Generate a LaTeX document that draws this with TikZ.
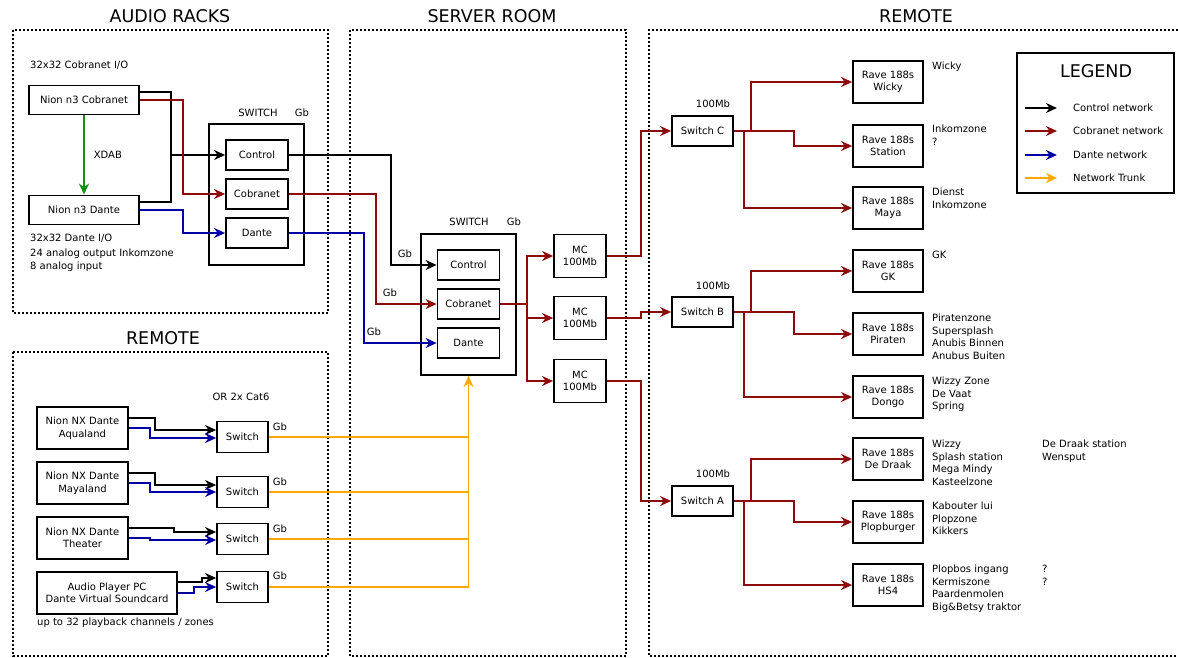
\documentclass[tikz,border=0pt]{standalone}
\usepackage{fontspec}
\setmainfont{DejaVu Sans}
\usepackage{tikz}
\usetikzlibrary{arrows.meta}

\definecolor{cobred}{RGB}{140,10,10}
\definecolor{danblue}{RGB}{0,0,165}
\definecolor{trunkorange}{RGB}{255,168,0}
\definecolor{xdabgreen}{RGB}{20,145,20}

\begin{document}
\begin{tikzpicture}[line join=miter,x=1pt,y=-1pt,>={Stealth[length=11pt,width=10pt,inset=3.5pt]},
        box/.style={draw,line width=1.8pt,inner sep=1pt,align=center,font=\fontsize{10}{12.5}\selectfont},
        dev/.style={box,minimum width=110pt,minimum height=29pt},
        port/.style={box,minimum width=62pt,minimum height=30pt},
        swbox/.style={box,minimum width=95pt,minimum height=141pt},
        mc/.style={box,minimum width=52pt,minimum height=43pt},
        hub/.style={box,minimum width=61pt,minimum height=30pt},
        rave/.style={box,minimum width=70pt,minimum height=42pt},
        nx/.style={box,minimum width=91pt,minimum height=42pt},
        rsw/.style={box,minimum width=51pt,minimum height=31pt},
        txt/.style={inner sep=0pt,align=left,text=black,font=\fontsize{10}{12.5}\selectfont},
        title/.style={inner sep=0pt,font=\fontsize{17.5}{20}\selectfont},
        zone/.style={line width=1.4pt,dash pattern=on 2pt off 2pt},
        ctrl/.style={line width=1.6pt,black},
        cob/.style={line width=1.6pt,cobred},
        dan/.style={line width=1.6pt,danblue},
        trunk/.style={line width=1.8pt,trunkorange}]
        \useasboundingbox (0,0) rectangle (1178,658);
        % zones
        \draw [zone] (13,30) rectangle (328,313);
        \draw [zone] (13,352) rectangle (328,656);
        \draw [zone] (350,30) rectangle (626,656);
        \draw [zone] (1178,30) -- (649,30) -- (649,656) -- (1178,656);
        \node [title] (tRacks) at (170,16) {AUDIO RACKS};
        \node [title] (tServer) at (492,16) {SERVER ROOM};
        \node [title] (tRemR) at (916,16) {REMOTE};
        \node [title] (tRemL) at (163,338) {REMOTE};
        % audio racks
        \node [txt,anchor=west] (lCobIO) at (30,65) {32x32 Cobranet I/O};
        \node [dev] (n3cob) at (84,100) {Nion n3 Cobranet};
        \node [dev] (n3dan) at (84,210) {Nion n3 Dante};
        \node [txt,anchor=west] (lDanIO) at (30,238) {32x32 Dante I/O};
        \node [txt,anchor=north west] (lAnalog) at (30,249) {24 analog output Inkomzone\\8 analog input};
        \node [swbox] (arSw) at (256.5,194.5) {};
        \node [txt] (lArSw) at (258,113) {SWITCH};
        \node [txt] (lArGb) at (302,113) {Gb};
        \node [port] (arCtrl) at (257,155) {Control};
        \node [port] (arCob) at (257,194) {Cobranet};
        \node [port] (arDan) at (257,233) {Dante};
        \draw [->,line width=1.6pt,xdabgreen] (n3cob) -- (n3dan) node[txt,midway,right=9pt] {XDAB};
        \coordinate (arJoin) at (171,155);
        \draw [ctrl] ([yshift=8pt]n3cob.east) -| (arJoin);
        \draw [ctrl] ([yshift=8pt]n3dan.east) -| (arJoin);
        \draw [ctrl,->] (arJoin) -- (arCtrl);
        \draw [cob,->] (n3cob.east) -- ++(43,0) |- (arCob);
        \draw [dan,->] (n3dan.east) -- ++(43,0) |- (arDan);
        % server room
        \node [swbox] (srSw) at (468.5,304.5) {};
        \node [txt] (lSrSw) at (469,222) {SWITCH};
        \node [txt] (lSrGb) at (514,222) {Gb};
        \node [port] (srCtrl) at (468.5,265) {Control};
        \node [port] (srCob) at (468.5,304) {Cobranet};
        \node [port] (srDan) at (468.5,343) {Dante};
        \draw [ctrl,->] (arCtrl.east) -- ++(102,0) |- (srCtrl);
        \draw [cob,->] (arCob.east) -- ++(87,0) |- (srCob);
        \draw [dan,->] (arDan.east) -- ++(75,0) |- (srDan);
        \node [txt] (lGb1) at (405,254) {Gb};
        \node [txt] (lGb2) at (390,293) {Gb};
        \node [txt] (lGb3) at (374,332) {Gb};
        \node [mc] (mc1) at (580,256) {MC\\100Mb};
        \node [mc] (mc2) at (580,318) {MC\\100Mb};
        \node [mc] (mc3) at (580,381) {MC\\100Mb};
        \coordinate (srSplit) at (527,304);
        \draw [cob,line width=2.4pt] (srCob) -- (srSplit);
        \foreach \m in {mc1,mc2,mc3}
            \draw [cob,->] (srSplit) |- (\m);
        % remote (right)
        \node [hub] (swC) at (702.5,131) {Switch C};
        \node [hub] (swB) at (702.5,312) {Switch B};
        \node [hub] (swA) at (702.5,501) {Switch A};
        \node [txt] (lSwC) at (713,104) {100Mb};
        \node [txt] (lSwB) at (713,286) {100Mb};
        \node [txt] (lSwA) at (713,474) {100Mb};
        \draw [cob,->] (mc1.east) -- ++(34,0) |- (swC);
        \draw [cob,->] (mc2.east) -- ++(34,0) |- (swB);
        \draw [cob,->] (mc3.east) -- ++(34,0) |- (swA);
        \node [rave] (rvWicky) at (888,82) {Rave 188s\\Wicky};
        \node [rave] (rvStation) at (888,146) {Rave 188s\\Station};
        \node [rave] (rvMaya) at (888,208) {Rave 188s\\Maya};
        \node [rave] (rvGK) at (888,271) {Rave 188s\\GK};
        \node [rave] (rvPiraten) at (888,334) {Rave 188s\\Piraten};
        \node [rave] (rvDongo) at (888,397) {Rave 188s\\Dongo};
        \node [rave] (rvDraak) at (888,459) {Rave 188s\\De Draak};
        \node [rave] (rvPlop) at (888,522) {Rave 188s\\Plopburger};
        \node [rave] (rvHS) at (888,585) {Rave 188s\\HS4};
        \draw [cob,->] (swC.east) -- ++(17,0) |- (rvWicky);
        \draw [cob,->] (swC.east) -- ++(60,0) |- (rvStation);
        \draw [cob,->] (swC.east) -- ++(10,0) |- (rvMaya);
        \draw [cob,->] (swB.east) -- ++(17,0) |- (rvGK);
        \draw [cob,->] (swB.east) -- ++(60,0) |- (rvPiraten);
        \draw [cob,->] (swB.east) -- ++(10,0) |- (rvDongo);
        \draw [cob,->] (swA.east) -- ++(17,0) |- (rvDraak);
        \draw [cob,->] (swA.east) -- ++(60,0) |- (rvPlop);
        \draw [cob,->] (swA.east) -- ++(10,0) |- (rvHS);
        \node [txt,anchor=north west] (zWicky) at (932,62) {Wicky};
        \node [txt,anchor=north west] (zStation) at (932,125) {Inkomzone\\?};
        \node [txt,anchor=north west] (zMaya) at (932,188) {Dienst\\Inkomzone};
        \node [txt,anchor=north west] (zGK) at (932,251) {GK};
        \node [txt,anchor=north west] (zPiraten) at (932,314) {Piratenzone\\Supersplash\\Anubis Binnen\\Anubus Buiten};
        \node [txt,anchor=north west] (zDongo) at (932,377) {Wizzy Zone\\De Vaat\\Spring};
        \node [txt,anchor=north west] (zDraak) at (932,440) {Wizzy\\Splash station\\Mega Mindy\\Kasteelzone};
        \node [txt,anchor=north west] (zDraak2) at (1042,440) {De Draak station\\Wensput};
        \node [txt,anchor=north west] (zPlop) at (932,502) {Kabouter lui\\Plopzone\\Kikkers};
        \node [txt,anchor=north west] (zHS) at (932,565) {Plopbos ingang\\Kermiszone\\Paardenmolen\\Big\&Betsy traktor};
        \node [txt,anchor=north west] (zHS2) at (1042,565) {?\\?};
        % legend
        \node [draw,line width=1.8pt,minimum width=157pt,minimum height=140pt] (legend) at (1095.5,123) {};
        \node [title] (lLegend) at (1096,71) {LEGEND};
        \node [txt,anchor=west] (lgCtrl) at (1073,108) {Control network};
        \node [txt,anchor=west] (lgCob) at (1073,131) {Cobranet network};
        \node [txt,anchor=west] (lgDan) at (1073,155) {Dante network};
        \node [txt,anchor=west] (lgTrunk) at (1073,178) {Network Trunk};
        \draw [ctrl,->] ([xshift=-48pt]lgCtrl.west) -- ([xshift=-16pt]lgCtrl.west);
        \draw [cob,->] ([xshift=-48pt]lgCob.west) -- ([xshift=-16pt]lgCob.west);
        \draw [dan,->] ([xshift=-48pt]lgDan.west) -- ([xshift=-16pt]lgDan.west);
        \draw [trunk,->] ([xshift=-48pt]lgTrunk.west) -- ([xshift=-16pt]lgTrunk.west);
        % remote (left)
        \node [txt] (lCat) at (241,397) {OR 2x Cat6};
        \node [nx] (nx1) at (82.5,428) {Nion NX Dante\\Aqualand};
        \node [nx] (nx2) at (82.5,483) {Nion NX Dante\\Mayaland};
        \node [nx] (nx3) at (82.5,538) {Nion NX Dante\\Theater};
        \node [box,minimum width=140pt,minimum height=42pt] (pc) at (107,593) {Audio Player PC\\Dante Virtual Soundcard};
        \node [txt,anchor=west] (lPlay) at (37,623) {up to 32 playback channels / zones};
        \node [rsw] (rsw1) at (242.5,437) {Switch};
        \node [rsw] (rsw2) at (242.5,492) {Switch};
        \node [rsw] (rsw3) at (242.5,539) {Switch};
        \node [rsw] (rsw4) at (242.5,587) {Switch};
        \node [txt] (lR1) at (280,427) {Gb};
        \node [txt] (lR2) at (280,482) {Gb};
        \node [txt] (lR3) at (280,529) {Gb};
        \node [txt] (lR4) at (280,576) {Gb};
        \draw [ctrl,->] ([yshift=10pt]nx1.east) -- ++(26,0) |- ([yshift=7pt]rsw1.west);
        \draw [dan,->] (nx1.east) -- ++(21,0) |- ([yshift=-1pt]rsw1.west);
        \draw [ctrl,->] ([yshift=10pt]nx2.east) -- ++(26,0) |- ([yshift=7pt]rsw2.west);
        \draw [dan,->] (nx2.east) -- ++(21,0) |- (rsw2.west);
        \draw [ctrl,->] ([yshift=10pt]nx3.east) -- ++(45,0) |- ([yshift=7pt]rsw3.west);
        \draw [dan,->] (nx3.east) -- ++(21,0) |- ([yshift=-1pt]rsw3.west);
        \draw [ctrl,->] ([yshift=11pt]pc.east) -- ++(24,0) |- ([yshift=9pt]rsw4.west);
        \draw [dan,->] (pc.east) -- ++(16,0) |- (rsw4.west);
        \foreach \r in {rsw1,rsw2,rsw3,rsw4}
            \draw [trunk] (\r.east) -- (\r.east -| srSw.south);
        \draw [trunk,->] (rsw4.east -| srSw.south) -- (srSw.south);
\end{tikzpicture}
\end{document}
